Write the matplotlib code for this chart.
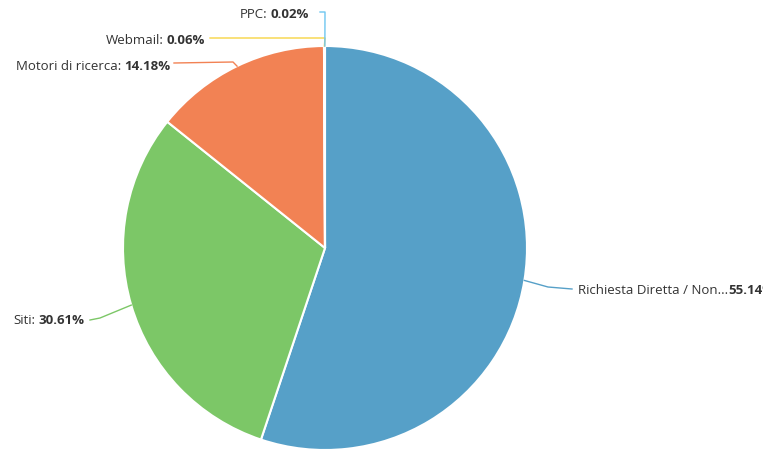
import numpy as np
import matplotlib.pyplot as plt

labels = ['Richiesta Diretta / Non...', 'Siti', 'Motori di ricerca', 'Webmail', 'PPC']
values = [55.14, 30.61, 14.18, 0.06, 0.02]
value_text = ['55.14%', '30.61%', '14.18%', '0.06%', '0.02%']
colors = ['#56A0C8', '#7CC767', '#F28254', '#F7D443', '#6EC6F0']

W, H = 763, 450
cx, cy, rad = 325, H - 248, 202

# leader line bends and label anchors, in pixels from top-left
bends = [[(548, 287), (572, 289)],
         [(100, 318), (90, 320)],
         [(233, 62), (174, 63)],
         [(325, 38), (210, 38)],
         [(325, 12), (320, 12)]]
label_pos = [(578, 291, 'left'), (84, 321, 'right'), (170, 66, 'right'),
             (205, 40, 'right'), (309, 14, 'right')]

plt.rcParams['font.family'] = ['Open Sans', 'DejaVu Sans']
fig = plt.figure(figsize=(W / 100, H / 100), dpi=100)
ax = fig.add_axes([0, 0, 1, 1])

wedges, _ = ax.pie(values, colors=colors, startangle=90, counterclock=False,
                   center=(cx, cy), radius=rad, frame=True,
                   wedgeprops=dict(edgecolor='white', linewidth=1.5))
ax.set_xlim(0, W)
ax.set_ylim(0, H)
ax.axis('off')

renderer = fig.canvas.get_renderer()
fs = 9.5
for w, lab, val, col, bend, (lx, ly, ha) in zip(wedges, labels, value_text, colors, bends, label_pos):
    mid = np.deg2rad((w.theta1 + w.theta2) / 2)
    ex, ey = cx + rad * np.cos(mid), cy + rad * np.sin(mid)
    xs = [ex] + [b[0] for b in bend]
    ys = [ey] + [H - b[1] for b in bend]
    ax.plot(xs, ys, color=col, lw=1)
    if ha == 'left':
        t1 = ax.text(lx, H - ly, lab, fontsize=fs, color='#333333', ha='left', va='center')
        bb = t1.get_window_extent(renderer)
        ax.text(bb.x1, H - ly, val, fontsize=fs, color='#333333', ha='left', va='center',
                fontweight='bold')
    else:
        t2 = ax.text(lx, H - ly, val, fontsize=fs, color='#333333', ha='right', va='center',
                     fontweight='bold')
        bb = t2.get_window_extent(renderer)
        ax.text(bb.x0 - 3, H - ly, lab + ':', fontsize=fs, color='#333333', ha='right',
                va='center')

plt.savefig('out.png', dpi=100)
